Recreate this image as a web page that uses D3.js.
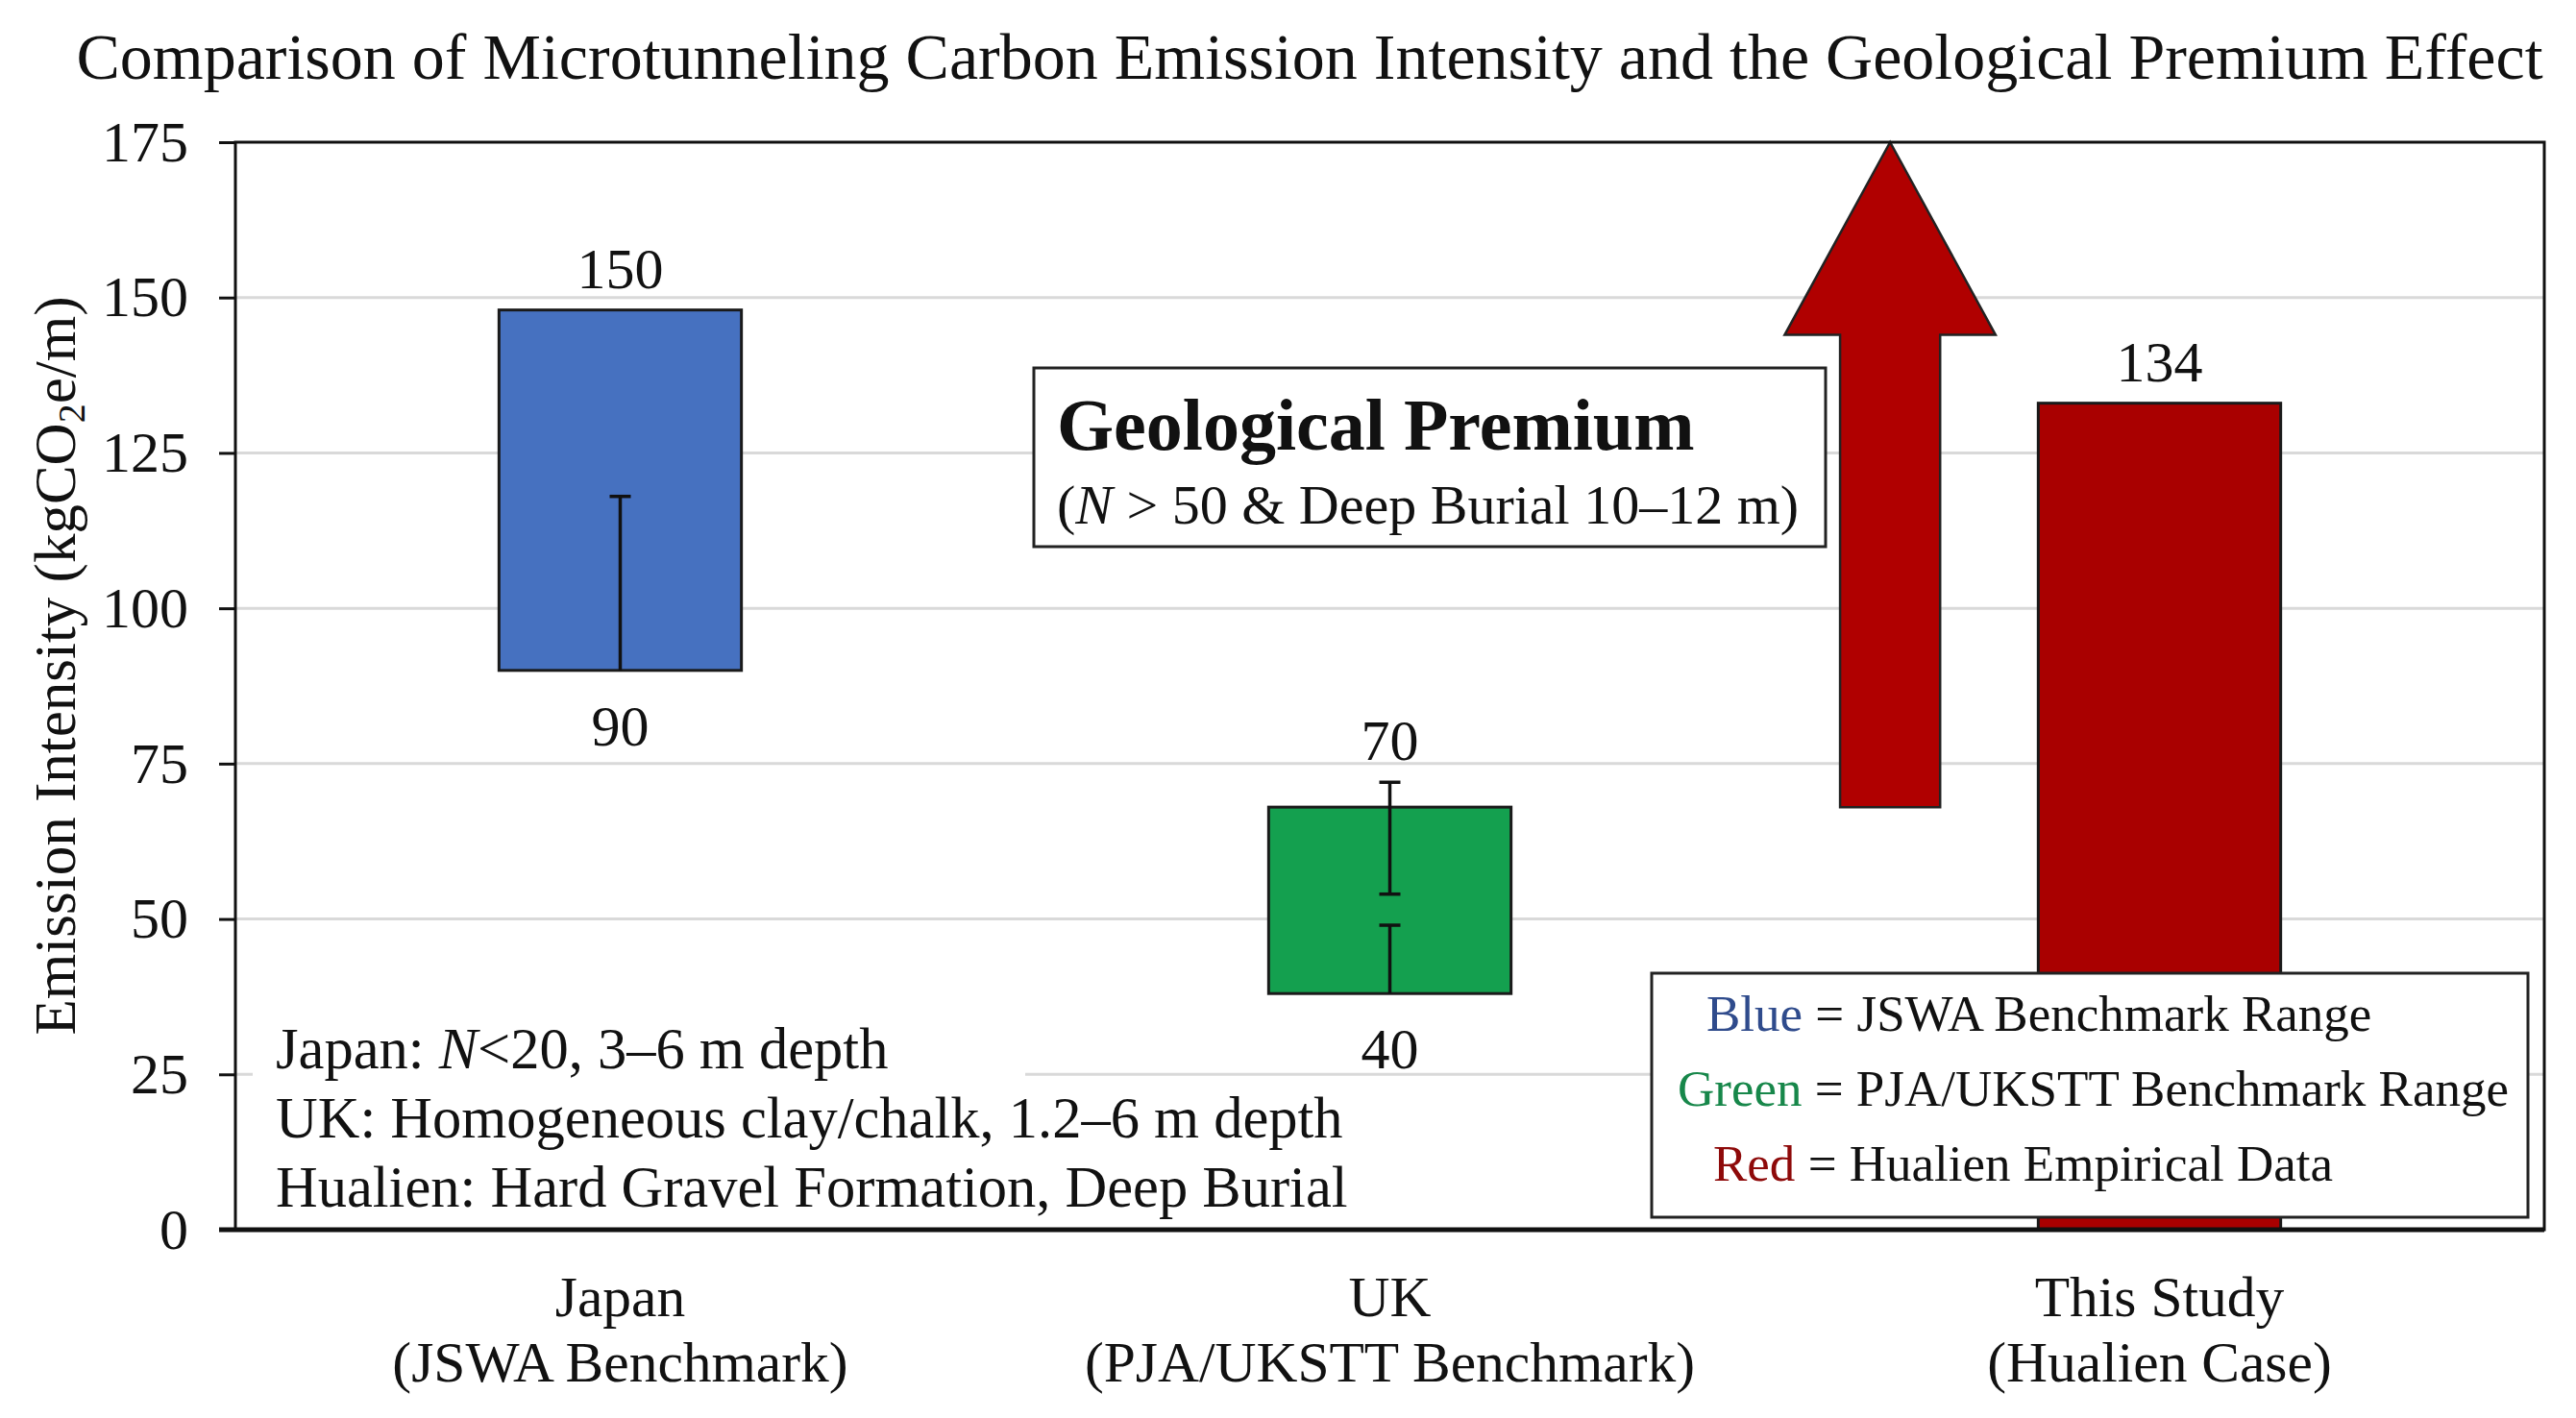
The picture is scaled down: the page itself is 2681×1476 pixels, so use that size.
<!DOCTYPE html>
<html>
<head>
<meta charset="utf-8">
<script src="https://cdn.jsdelivr.net/npm/d3@7"></script>
<style>
  body { margin: 0; background: #fff; }
  text { font-family: "Liberation Serif", "Times New Roman", serif; fill: #111; }
</style>
</head>
<body>
<div id="chart"></div>
<script>
// Categories and their second label line
const categories = ["Japan", "UK", "This Study"];
const categorySub = ["(JSWA Benchmark)", "(PJA/UKSTT Benchmark)", "(Hualien Case)"];

// Floating bars (low / high) as drawn, plus the printed labels
const barLow = [90, 38, 0];
const barHigh = [148, 68, 133];
const labelHigh = ["150", "70", "134"];
const labelLow = ["90", "40", ""];
const barColors = ["#4671c0", "#14a04f", "#a90000"];

// Error bar segments
const errCategory = ["Japan", "UK", "UK"];
const errLow = [90, 54, 38];
const errHigh = [118, 72, 49];
const errLowCap = [false, true, false];

// Big "premium" arrow: base, head base, tip
const arrowValues = [68, 144, 175];

const yTicks = [0, 25, 50, 75, 100, 125, 150, 175];

const noteLines = [
  [["Japan: ", "n"], ["N", "i"], ["<20, 3–6 m depth", "n"]],
  [["UK: Homogeneous clay/chalk, 1.2–6 m depth", "n"]],
  [["Hualien: Hard Gravel Formation, Deep Burial", "n"]]
];
const legendWords = ["Blue", "Green", "Red"];
const legendColors = ["#2f4b8c", "#17874a", "#8e0a0a"];
const legendTexts = [" = JSWA Benchmark Range", " = PJA/UKSTT Benchmark Range", " = Hualien Empirical Data"];

const W = 2681, H = 1476;
const margin = { left: 245, right: 33, top: 148, bottom: 196 };
const x0 = margin.left, x1 = W - margin.right;
const yTop = margin.top, yBot = H - margin.bottom;

const svg = d3.select("#chart").append("svg")
  .attr("width", W)
  .attr("height", H);

const x = d3.scalePoint().domain(categories).range([x0, x1]).padding(0.5);
const step = x.step();
const barW = step * 0.315;
const y = d3.scaleLinear().domain([0, 175]).range([yBot, yTop]);

// Title
svg.append("text")
  .attr("x", 1363).attr("y", 82)
  .attr("text-anchor", "middle")
  .style("font-size", "68px")
  .text("Comparison of Microtunneling Carbon Emission Intensity and the Geological Premium Effect");

// Gridlines
svg.append("g")
  .selectAll("line")
  .data(yTicks.filter(d => d > 0 && d < 175))
  .enter().append("line")
  .attr("x1", x0).attr("x2", x1)
  .attr("y1", d => y(d)).attr("y2", d => y(d))
  .attr("stroke", "#d9d9d9").attr("stroke-width", 3);

// Y axis with ticks
const yAxis = svg.append("g")
  .attr("transform", `translate(${x0},0)`)
  .call(d3.axisLeft(y).tickValues(yTicks).tickSize(17).tickPadding(32));
yAxis.select(".domain").remove();
yAxis.selectAll(".tick line").attr("stroke", "#111").attr("stroke-width", 3);
yAxis.selectAll(".tick text")
  .style("font-size", "60px")
  .style("font-family", "'Liberation Serif', serif")
  .attr("fill", "#111");

// Y axis title
svg.append("text")
  .attr("transform", "translate(78, 693) rotate(-90)")
  .attr("text-anchor", "middle")
  .style("font-size", "61px")
  .call(t => {
    t.append("tspan").text("Emission Intensity (kgCO");
    t.append("tspan").attr("dy", 10).style("font-size", "40px").text("2");
    t.append("tspan").attr("dy", -10).text("e/m)");
  });

// Note text background (hides gridline behind notes)
svg.append("rect")
  .attr("x", 263).attr("y", 1060).attr("width", 804).attr("height", 210)
  .attr("fill", "#fff");

// Bars
svg.append("g")
  .selectAll("rect")
  .data(categories)
  .enter().append("rect")
  .attr("x", d => x(d) - barW / 2)
  .attr("width", barW)
  .attr("y", (d, i) => y(barHigh[i]))
  .attr("height", (d, i) => y(barLow[i]) - y(barHigh[i]))
  .attr("fill", (d, i) => barColors[i])
  .attr("stroke", "#1a1a1a").attr("stroke-width", 3);

// Error bars
const capW = 22;
const err = svg.append("g").selectAll("g")
  .data(d3.range(errCategory.length))
  .enter().append("g")
  .attr("stroke", "#111").attr("stroke-width", 3.5);
err.append("line")
  .attr("x1", i => x(errCategory[i])).attr("x2", i => x(errCategory[i]))
  .attr("y1", i => y(errLow[i])).attr("y2", i => y(errHigh[i]));
err.append("line")
  .attr("x1", i => x(errCategory[i]) - capW / 2).attr("x2", i => x(errCategory[i]) + capW / 2)
  .attr("y1", i => y(errHigh[i])).attr("y2", i => y(errHigh[i]));
err.filter(i => errLowCap[i]).append("line")
  .attr("x1", i => x(errCategory[i]) - capW / 2).attr("x2", i => x(errCategory[i]) + capW / 2)
  .attr("y1", i => y(errLow[i])).attr("y2", i => y(errLow[i]));

// Value labels above and below
svg.append("g")
  .selectAll("text")
  .data(categories)
  .enter().append("text")
  .attr("x", d => x(d))
  .attr("y", (d, i) => {
    const tops = errHigh.filter((e, j) => errCategory[j] === d);
    return y(Math.max(barHigh[i], ...tops)) - 23;
  })
  .attr("text-anchor", "middle")
  .style("font-size", "60px")
  .text((d, i) => labelHigh[i]);
svg.append("g")
  .selectAll("text")
  .data(categories)
  .enter().append("text")
  .attr("x", d => x(d))
  .attr("y", (d, i) => y(barLow[i]) + 78)
  .attr("text-anchor", "middle")
  .style("font-size", "60px")
  .text((d, i) => labelLow[i]);

// Premium arrow
const ax = x("This Study") - 0.35 * step;
const shaft = 0.065 * step, head = 0.137 * step;
const arrowPts = [
  [ax - shaft, y(arrowValues[0])], [ax - shaft, y(arrowValues[1])],
  [ax - head, y(arrowValues[1])], [ax, y(arrowValues[2])],
  [ax + head, y(arrowValues[1])], [ax + shaft, y(arrowValues[1])],
  [ax + shaft, y(arrowValues[0])]
];
svg.append("path")
  .attr("d", d3.line()(arrowPts) + "Z")
  .attr("fill", "#b00000")
  .attr("stroke", "#222").attr("stroke-width", 2.5).attr("stroke-linejoin", "miter");

// Plot frame
svg.append("rect")
  .attr("x", x0).attr("y", yTop)
  .attr("width", x1 - x0).attr("height", yBot - yTop)
  .attr("fill", "none").attr("stroke", "#111").attr("stroke-width", 3);
svg.append("line")
  .attr("x1", x0 - 17).attr("x2", x1)
  .attr("y1", yBot).attr("y2", yBot)
  .attr("stroke", "#111").attr("stroke-width", 5);

// Geological premium box
svg.append("rect")
  .attr("x", 1076).attr("y", 383).attr("width", 824).attr("height", 186)
  .attr("fill", "#fff").attr("stroke", "#222").attr("stroke-width", 3);
svg.append("text")
  .attr("x", 1100).attr("y", 468)
  .style("font-size", "76px").style("font-weight", "bold")
  .text("Geological Premium");
svg.append("text")
  .attr("x", 1100).attr("y", 545)
  .style("font-size", "58px")
  .call(t => {
    t.append("tspan").text("(");
    t.append("tspan").style("font-style", "italic").text("N");
    t.append("tspan").text(" > 50 & Deep Burial 10–12 m)");
  });

// Notes at bottom left
svg.append("g")
  .selectAll("text")
  .data(noteLines)
  .enter().append("text")
  .attr("x", 287)
  .attr("y", (d, i) => 1112 + i * 72)
  .style("font-size", "60.5px")
  .selectAll("tspan")
  .data(d => d)
  .enter().append("tspan")
  .style("font-style", d => d[1] === "i" ? "italic" : "normal")
  .text(d => d[0]);

// Legend box
svg.append("rect")
  .attr("x", 1719).attr("y", 1013).attr("width", 912).attr("height", 254)
  .attr("fill", "#fff").attr("stroke", "#222").attr("stroke-width", 3);
const legendX = [1776, 1746, 1783];
svg.append("g")
  .selectAll("text")
  .data(legendWords)
  .enter().append("text")
  .attr("x", (d, i) => legendX[i])
  .attr("y", (d, i) => 1073 + i * 78)
  .style("font-size", "53px")
  .call(t => {
    t.append("tspan").style("fill", (d, i) => legendColors[i]).text(d => d);
    t.append("tspan").text((d, i) => legendTexts[i]);
  });

// Category labels
const catLabels = svg.append("g")
  .selectAll("text")
  .data(categories)
  .enter().append("text")
  .attr("text-anchor", "middle")
  .style("font-size", "59.5px");
catLabels.append("tspan")
  .attr("x", d => x(d)).attr("y", 1370)
  .text(d => d);
catLabels.append("tspan")
  .attr("x", d => x(d)).attr("y", 1438)
  .text((d, i) => categorySub[i]);
</script>
</body>
</html>
